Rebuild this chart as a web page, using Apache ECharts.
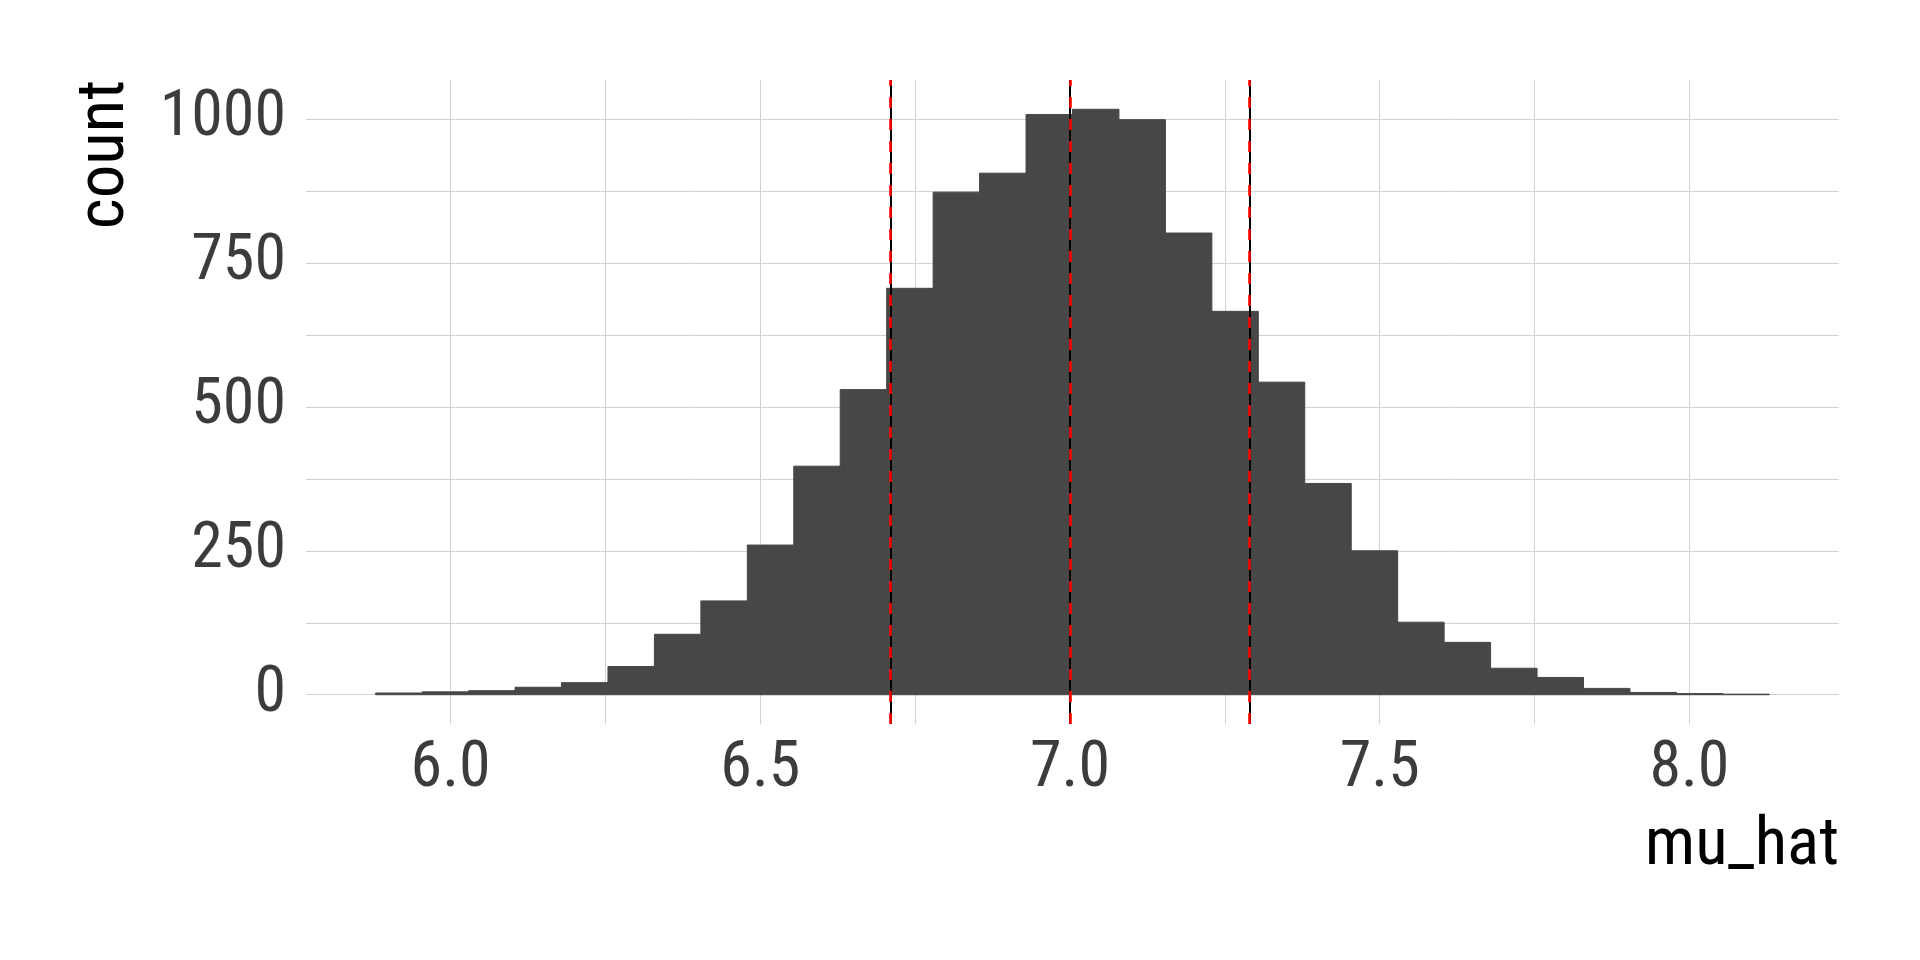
<!DOCTYPE html>
<html><head><meta charset="utf-8">
<script src="https://cdn.jsdelivr.net/npm/echarts@6/dist/echarts.min.js"></script>
<style>html,body{margin:0;padding:0;background:#fff}#c{width:1920px;height:960px}</style>
</head><body><div id="c"></div>
<script>
// bin edges (mu_hat) and counts per bin
const binEdges = [5.879, 5.954, 6.029, 6.104, 6.179, 6.254, 6.329, 6.404, 6.479, 6.554,
  6.629, 6.704, 6.779, 6.854, 6.929, 7.004, 7.079, 7.154, 7.229, 7.304,
  7.379, 7.454, 7.529, 7.604, 7.679, 7.754, 7.829, 7.904, 7.979, 8.054, 8.129];
const counts = [3, 5, 7, 13, 21, 49, 105, 163, 260, 397,
  530, 706, 873, 906, 1008, 1017, 999, 802, 666, 543,
  367, 250, 126, 91, 46, 30, 11, 4, 2, 1];
const refLines = [6.71, 7.00, 7.29];
const xTickLabels = [6.0, 6.5, 7.0, 7.5, 8.0];
const xGridValues = [6.0, 6.25, 6.5, 6.75, 7.0, 7.25, 7.5, 7.75, 8.0];
const yTickLabels = [0, 250, 500, 750, 1000];
const yGridValues = [0, 125, 250, 375, 500, 625, 750, 875, 1000];
const xTitle = 'mu_hat';
const yTitle = 'count';

const FONT = "'Roboto Condensed','Liberation Sans Narrow','DejaVu Sans Condensed','Roboto',sans-serif";
const chart = echarts.init(document.getElementById('c'), null, {renderer: 'canvas'});
const barData = counts.map((c, i) => [binEdges[i], binEdges[i + 1], c]);

chart.setOption({
  animation: false,
  backgroundColor: '#ffffff',
  grid: {left: 306, right: 81, top: 80, bottom: 236},
  xAxis: {
    type: 'value', min: 5.7665, max: 8.2415,
    axisLine: {show: false},
    axisTick: {show: false, customValues: xGridValues},
    splitLine: {show: true, lineStyle: {color: '#d2d2d2', width: 1}},
    axisLabel: {customValues: xTickLabels, formatter: v => v.toFixed(1),
      fontFamily: FONT, fontSize: 64, color: '#3c3c3c', margin: 14}
  },
  yAxis: {
    type: 'value', min: -50.85, max: 1067.85,
    axisLine: {show: false},
    axisTick: {show: false, customValues: yGridValues},
    splitLine: {show: true, lineStyle: {color: '#d2d2d2', width: 1}},
    axisLabel: {customValues: yTickLabels, formatter: v => String(v),
      fontFamily: FONT, fontSize: 64, color: '#3c3c3c', margin: 20}
  },
  graphic: [
    {type: 'text', x: 106, y: 80, rotation: Math.PI / 2,
      style: {text: yTitle, font: '67px ' + FONT, fill: '#000', textAlign: 'right', textVerticalAlign: 'middle'}},
    {type: 'text', x: 1839, y: 847,
      style: {text: xTitle, font: '67px ' + FONT, fill: '#000', textAlign: 'right', textVerticalAlign: 'middle'}}
  ],
  series: [
    {
      type: 'custom', data: barData, encode: {x: [0, 1], y: 2}, z: 2,
      renderItem: function (params, api) {
        const p0 = api.coord([api.value(0), 0]);
        const p1 = api.coord([api.value(1), api.value(2)]);
        return {type: 'rect', shape: {x: p0[0], y: p1[1], width: p1[0] - p0[0], height: p0[1] - p1[1]},
          style: {fill: '#474747', stroke: '#474747', lineWidth: 1}};
      }
    },
    {
      type: 'line', data: [], z: 3,
      markLine: {silent: true, symbol: 'none', label: {show: false}, animation: false,
        lineStyle: {color: '#000000', width: 2, type: 'solid'},
        data: refLines.map(v => ({xAxis: v}))}
    },
    {
      type: 'line', data: [], z: 4,
      markLine: {silent: true, symbol: 'none', label: {show: false}, animation: false,
        lineStyle: {color: '#ff0000', width: 2.6, type: [11, 11]},
        data: refLines.map(v => ({xAxis: v}))}
    }
  ]
});
</script></body></html>
